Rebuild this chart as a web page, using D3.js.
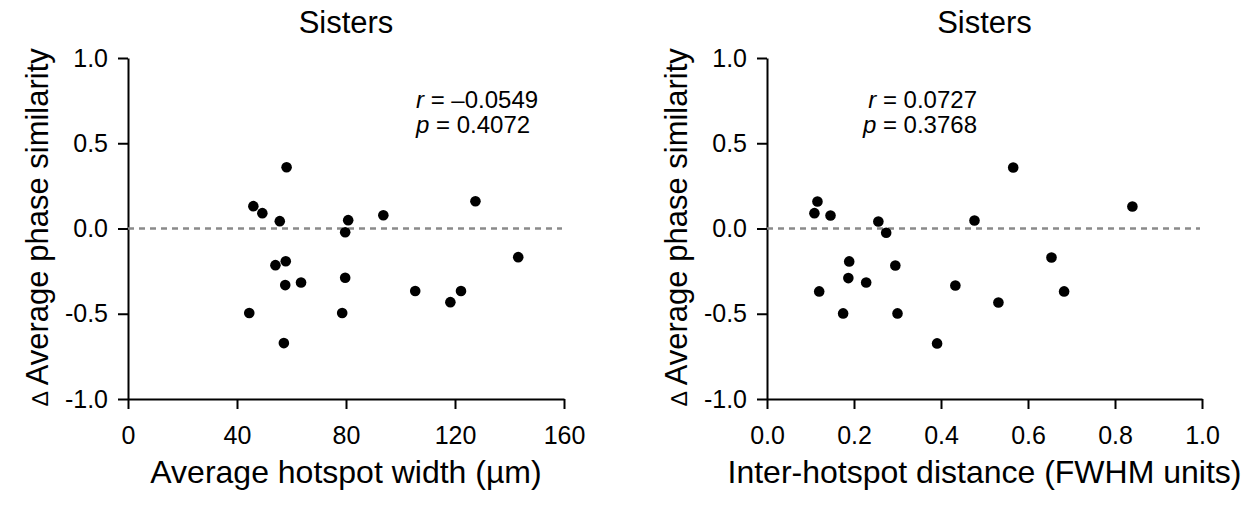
<!DOCTYPE html>
<html>
<head>
<meta charset="utf-8">
<script src="https://cdn.jsdelivr.net/npm/d3@7"></script>
<style>
  body { margin: 0; background: #fff; }
  text { font-family: "Liberation Sans", Arial, sans-serif; fill: #000; }
</style>
</head>
<body>
<script>
// left panel: average hotspot width vs delta phase similarity
var widthX = [58.2, 46.0, 49.3, 55.7, 80.8, 93.7, 127.5, 79.7, 143.2, 54.1,
              57.9, 79.7, 63.5, 57.7, 105.4, 122.2, 118.3, 44.5, 78.6, 57.2];
var widthY = [0.359, 0.131, 0.090, 0.043, 0.049, 0.078, 0.160, -0.022, -0.168, -0.215,
              -0.192, -0.289, -0.317, -0.332, -0.367, -0.367, -0.432, -0.496, -0.496, -0.672];
// right panel: inter-hotspot distance
var distX = [0.566, 0.116, 0.109, 0.146, 0.256, 0.274, 0.477, 0.840, 0.189, 0.295,
             0.654, 0.187, 0.228, 0.120, 0.433, 0.683, 0.532, 0.175, 0.300, 0.391];
var distY = [0.358, 0.158, 0.090, 0.076, 0.041, -0.025, 0.047, 0.129, -0.193, -0.217,
             -0.170, -0.291, -0.317, -0.369, -0.334, -0.369, -0.434, -0.498, -0.498, -0.674];

var yTicks = [-1.0, -0.5, 0.0, 0.5, 1.0];
var widthTicks = [0, 40, 80, 120, 160];
var distTicks = [0.0, 0.2, 0.4, 0.6, 0.8, 1.0];

var W = 1251, H = 505;
var svg = d3.select("body").append("svg")
    .attr("width", W)
    .attr("height", H);

function drawPanel(cfg) {
    var x = d3.scaleLinear().domain(cfg.xDomain).range([cfg.left, cfg.right]);
    var y = d3.scaleLinear().domain([-1, 1]).range([399, 58]);
    var g = svg.append("g");

    // y axis
    var yAxis = g.append("g")
        .attr("transform", "translate(" + cfg.left + ",0)")
        .call(d3.axisLeft(y).tickValues(yTicks).tickSize(10).tickSizeOuter(0).tickPadding(10)
            .tickFormat(function(d){ return d.toFixed(1); }));
    // x axis
    var xAxis = g.append("g")
        .attr("transform", "translate(0,399)")
        .call(d3.axisBottom(x).tickValues(cfg.xTicks).tickSize(10).tickSizeOuter(0).tickPadding(17)
            .tickFormat(cfg.fmt));
    [yAxis, xAxis].forEach(function(a){
        a.select(".domain").attr("stroke-width", 2);
        a.selectAll(".tick line").attr("stroke-width", 2);
        a.selectAll(".tick text").style("font-size", "25px").attr("fill", "#000");
    });

    // zero line
    g.append("line")
        .attr("x1", x(cfg.xDomain[0])).attr("x2", x(cfg.xDomain[1]) - 2)
        .attr("y1", y(0)).attr("y2", y(0))
        .attr("stroke", "#8a8a8a")
        .attr("stroke-width", 2.5)
        .attr("stroke-dasharray", "6,5");

    // points
    g.selectAll("circle")
        .data(cfg.xs.map(function(v, i){ return [v, cfg.ys[i]]; }))
        .enter().append("circle")
        .attr("cx", function(d){ return x(d[0]); })
        .attr("cy", function(d){ return y(d[1]); })
        .attr("r", 5.3)
        .attr("fill", "#000");

    var mid = (cfg.left + cfg.right) / 2;
    g.append("text")
        .attr("x", mid).attr("y", 33)
        .attr("text-anchor", "middle")
        .style("font-size", "31px")
        .text("Sisters");

    g.append("text")
        .attr("x", mid).attr("y", 483)
        .attr("text-anchor", "middle")
        .style("font-size", "32px")
        .text(cfg.xLabel);

    var yl = g.append("text")
        .attr("transform", "translate(" + (cfg.left - 80) + ",227) rotate(-90)")
        .attr("text-anchor", "middle")
        .style("font-size", "31px");
    yl.append("tspan").style("font-size", "23px").text("\u2206 ");
    yl.append("tspan").text("Average phase similarity");

    // stats
    var st = g.append("text")
        .attr("text-anchor", cfg.statAnchor)
        .style("font-size", "24px");
    st.append("tspan").attr("x", cfg.statX).attr("y", 108)
        .style("font-style", "italic").text("r");
    st.append("tspan").text(" = " + cfg.r);
    var st2 = g.append("text")
        .attr("text-anchor", cfg.statAnchor)
        .style("font-size", "24px");
    st2.append("tspan").attr("x", cfg.statX).attr("y", 133)
        .style("font-style", "italic").text("p");
    st2.append("tspan").text(" = " + cfg.p);
}

drawPanel({
    left: 128, right: 564, xDomain: [0, 160], xTicks: widthTicks,
    fmt: function(d){ return String(d); },
    xs: widthX, ys: widthY,
    xLabel: "Average hotspot width (\u00b5m)",
    statX: 416, statAnchor: "start", r: "\u20130.0549", p: "0.4072"
});
drawPanel({
    left: 767, right: 1202, xDomain: [0, 1], xTicks: distTicks,
    fmt: function(d){ return d.toFixed(1); },
    xs: distX, ys: distY,
    xLabel: "Inter-hotspot distance (FWHM units)",
    statX: 977, statAnchor: "end", r: "0.0727", p: "0.3768"
});
</script>
</body>
</html>
